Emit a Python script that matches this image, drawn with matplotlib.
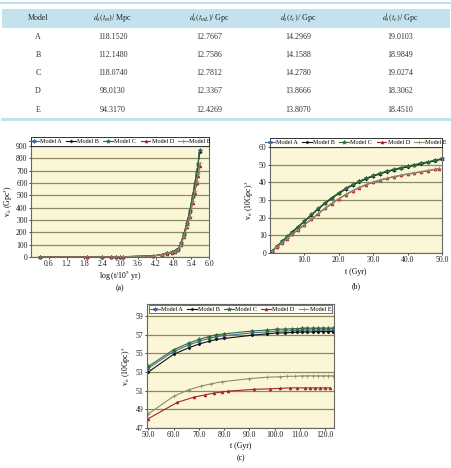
import matplotlib
matplotlib.use("Agg")
import matplotlib.pyplot as plt
from matplotlib.patches import Rectangle
from matplotlib.lines import Line2D

plt.rcParams['font.family'] = ['Liberation Serif', 'DejaVu Serif']
plt.rcParams['mathtext.fontset'] = 'stix'

W, H = 452, 468

# ---------------- table data ----------------
table_headers = ["Model", r"$d_s\left(t_{m}\right)$/ Mpc", r"$d_s\left(t_{mL}\right)$/ Gpc",
                 r"$d_s\left(t_{c}\right)$/ Gpc", r"$d_s\left(t_{e}\right)$/ Gpc"]
table_models = ["A", "B", "C", "D", "E"]
col_dm = ["118.1520", "112.1480", "118.0740", "98.0130", "94.3170"]
col_dml = ["12.7667", "12.7586", "12.7812", "12.3367", "12.4269"]
col_dc = ["14.2969", "14.1588", "14.2780", "13.8666", "13.8070"]
col_de = ["19.0103", "18.9849", "19.0274", "18.3062", "18.4510"]

# ---------------- panel (a) data ----------------
xa = [0.30, 1.90, 2.40, 2.70, 2.85, 3.00, 3.10, 4.10, 4.40, 4.60, 4.75, 4.85,
      4.95, 5.05, 5.15, 5.25, 5.35, 5.45, 5.52, 5.58, 5.63, 5.68]
a_A = [0, 0.3, 0.7, 1.2, 1.6, 2.2, 2.8, 8, 20, 32, 40, 46, 62, 110, 185, 270, 370, 495, 590, 680, 750, 860]
a_B = [0, 0.3, 0.7, 1.1, 1.5, 2.1, 2.7, 8, 19, 31, 39, 45, 61, 108, 182, 266, 365, 490, 585, 672, 742, 850]
a_C = [0, 0.3, 0.7, 1.2, 1.6, 2.2, 2.8, 8, 20, 32, 40, 46, 62, 111, 186, 272, 372, 498, 594, 684, 755, 866]
a_D = [0, 0.2, 0.6, 1.0, 1.4, 1.9, 2.5, 7, 18, 28, 36, 41, 55, 98, 165, 240, 328, 440, 522, 600, 660, 735]
a_E = [0, 0.2, 0.6, 1.0, 1.4, 1.9, 2.5, 7, 18, 29, 37, 42, 57, 100, 168, 246, 336, 452, 536, 618, 680, 760]

# ---------------- panel (b) data ----------------
tb = [0.5, 2, 3.5, 5, 6.5, 8, 10, 12, 14, 16, 18, 20, 22, 24, 26, 28, 30, 32, 34,
      36, 38, 40, 42, 44, 46, 48, 50]
b_A = [0.9, 3.7, 6.6, 9.3, 12.0, 14.6, 18.0, 21.6, 25.0, 28.3, 31.2, 33.9, 36.4, 38.6,
       40.5, 42.2, 43.7, 45.0, 46.2, 47.2, 48.1, 49.0, 49.8, 50.7, 51.5, 52.4, 53.3]
b_B = [0.9, 3.6, 6.5, 9.1, 11.8, 14.4, 17.8, 21.4, 24.8, 28.1, 31.0, 33.7, 36.2, 38.4,
       40.3, 42.0, 43.5, 44.8, 46.0, 47.0, 47.9, 48.8, 49.6, 50.5, 51.3, 52.2, 53.1]
b_C = [1.0, 3.8, 6.7, 9.4, 12.1, 14.7, 18.1, 21.8, 25.2, 28.5, 31.4, 34.1, 36.6, 38.8,
       40.7, 42.4, 43.9, 45.2, 46.4, 47.4, 48.3, 49.2, 50.0, 50.9, 51.7, 52.6, 53.5]
tb_DE = [0.5, 2, 3.5, 5, 6.5, 8, 10, 12, 14, 16, 18, 20, 22, 24, 26, 28, 30, 32, 34,
         36, 38, 40, 42, 44, 46, 48, 49]
b_D = [0.9, 3.3, 5.8, 8.2, 10.6, 12.9, 15.9, 19.0, 22.2, 25.2, 28.0, 30.6, 33.0, 35.1,
       37.0, 38.6, 40.0, 41.2, 42.2, 43.1, 43.9, 44.6, 45.3, 45.9, 46.6, 47.3, 47.7]
b_E = [0.9, 3.4, 5.9, 8.3, 10.8, 13.1, 16.1, 19.2, 22.4, 25.4, 28.2, 30.8, 33.2, 35.3,
       37.2, 38.8, 40.2, 41.4, 42.4, 43.3, 44.1, 44.8, 45.5, 46.1, 46.8, 47.5, 47.9]

# ---------------- panel (c) data ----------------
tc = [50, 60, 66, 70, 74, 77, 80, 91, 97, 101, 104, 107, 109, 111, 113, 115, 117, 119, 121, 123]
c_A = [53.4, 55.2, 55.9, 56.3, 56.6, 56.8, 56.9, 57.2, 57.3, 57.4, 57.4, 57.45, 57.45,
       57.5, 57.5, 57.5, 57.5, 57.5, 57.5, 57.5]
c_B = [53.0, 54.9, 55.6, 56.0, 56.3, 56.5, 56.6, 56.95, 57.1, 57.2, 57.2, 57.25, 57.3,
       57.3, 57.3, 57.3, 57.35, 57.35, 57.35, 57.35]
c_C = [53.6, 55.4, 56.1, 56.5, 56.8, 57.0, 57.1, 57.4, 57.5, 57.6, 57.6, 57.65, 57.65,
       57.7, 57.7, 57.7, 57.7, 57.7, 57.7, 57.7]
tc_E = [50, 60, 66, 71, 75, 79, 90, 97, 102, 105, 108, 111, 113, 115, 117, 119, 121, 123]
c_E = [48.5, 50.4, 51.1, 51.5, 51.75, 51.95, 52.3, 52.45, 52.5, 52.55, 52.55, 52.6, 52.6,
       52.6, 52.6, 52.6, 52.6, 52.6]
tc_D = [50, 61.5, 68, 72.5, 76, 79, 81.5, 92, 98, 102, 106, 109, 112, 114, 116, 118, 120, 122]
c_D = [48.0, 49.75, 50.3, 50.55, 50.75, 50.85, 50.95, 51.15, 51.2, 51.25, 51.3, 51.3, 51.3,
       51.3, 51.3, 51.3, 51.3, 51.3]

model_names = ["Model A", "Model B", "Model C", "Model D", "Model E"]
colors = ["#4a6c9b", "#111111", "#2f6b3a", "#a3232b", "#8c8c70"]
markers = [(6, 2, 0), "D", "*", "^", "+"]
msizes = [3.0, 1.4, 3.0, 2.0, 3.0]

BG = "#fcf6d8"
GRID = "#8a8a60"
FS = 5.6

fig = plt.figure(figsize=(W / 100, H / 100), dpi=100)


def fx(px):
    return px / W


def fy(py):
    return 1 - py / H


def add_axes(l, r, t, b):
    return fig.add_axes([fx(l), fy(b), fx(r) - fx(l), fy(t) - fy(b)])


# ---------------- table ----------------
fig.add_artist(Line2D([0, 1], [fy(3), fy(3)], color="#bfe0ec", lw=1.5))
fig.add_artist(Rectangle((fx(2), fy(28)), fx(450) - fx(2), fy(9) - fy(28),
                         facecolor="#c3e2ee", edgecolor="none"))
col_x = [38, 113, 209, 298, 400]
for cx, h in zip(col_x, table_headers):
    fig.text(fx(cx), fy(18), h, ha="center", va="center", fontsize=5.8, color="#222222")
row_y = [37, 55, 73, 91, 110]
columns = [table_models, col_dm, col_dml, col_dc, col_de]
for cx, col in zip(col_x, columns):
    for ry, val in zip(row_y, col):
        fig.text(fx(cx), fy(ry), val, ha="center", va="center", fontsize=5.8, color="#333333")
fig.add_artist(Line2D([fx(2), fx(450)], [fy(118.5), fy(118.5)], color="#bfe0ec", lw=2))


def style_ax(ax):
    ax.set_facecolor(BG)
    ax.grid(axis="y", color=GRID, lw=0.9)
    ax.set_axisbelow(True)
    for s in ax.spines.values():
        s.set_color("#666666")
        s.set_linewidth(0.8)
    ax.tick_params(labelsize=FS, length=1.5, width=0.6, pad=1.0, colors="#222222")


def plot_series(ax, xs_list, ys_list, lw=0.8):
    handles = []
    for xs, ys, c, m, ms, name in zip(xs_list, ys_list, colors, markers, msizes, model_names):
        h, = ax.plot(xs, ys, color=c, lw=lw, marker=m, ms=ms, mew=0.5,
                     mfc=c, mec=c, label=name, clip_on=False)
        handles.append(h)
    return handles


def legend_above(ax, handles, y0_px, y1_px, l_px, r_px):
    lax = fig.add_axes([fx(l_px), fy(y1_px), fx(r_px) - fx(l_px), fy(y0_px) - fy(y1_px)])
    lax.set_xticks([])
    lax.set_yticks([])
    lax.set_facecolor("white")
    for s in lax.spines.values():
        s.set_color("#333333")
        s.set_linewidth(0.7)
    lax.legend(handles=handles, loc="center", ncol=5, fontsize=4.4, frameon=False,
               handlelength=1.6, handletextpad=0.2, columnspacing=0.7,
               borderpad=0, borderaxespad=0)


# ---------------- panel (a) ----------------
axa = add_axes(31, 209, 146, 257)
style_ax(axa)
ha = plot_series(axa, [xa] * 5, [a_A, a_B, a_C, a_D, a_E])
axa.set_xlim(0, 6.0)
axa.set_ylim(0, 900)
axa.set_xticks([0.6, 1.2, 1.8, 2.4, 3.0, 3.6, 4.2, 4.8, 5.4, 6.0])
axa.set_xticklabels(["0.6", "1.2", "1.8", "2.4", "3.0", "3.6", "4.2", "4.8", "5.4", "6.0"])
axa.set_yticks(range(0, 901, 100))
axa.set_ylabel(r"v$_h$ (Gpc$^3$)", fontsize=FS, labelpad=1)
fig.text(fx(120), fy(275.5), r"log (t/10$^5$ yr)", ha="center", va="center", fontsize=FS)
legend_above(axa, ha, 137, 146, 31, 209)
fig.text(fx(120), fy(288), "(a)", ha="center", va="center", fontsize=FS)

# ---------------- panel (b) ----------------
axb = add_axes(270, 442, 147, 253)
style_ax(axb)
hb = plot_series(axb, [tb, tb, tb, tb_DE, tb_DE], [b_A, b_B, b_C, b_D, b_E])
axb.set_xlim(0, 50)
axb.set_ylim(0, 60)
axb.set_xticks([10, 20, 30, 40, 50])
axb.set_xticklabels(["10.0", "20.0", "30.0", "40.0", "50.0"])
axb.set_yticks(range(0, 61, 10))
axb.set_ylabel(r"v$_h$ (10Gpc)$^3$", fontsize=FS, labelpad=2)
fig.text(fx(356), fy(272), "t (Gyr)", ha="center", va="center", fontsize=FS)
legend_above(axb, hb, 138, 147, 270, 442)
fig.text(fx(356), fy(286), "(b)", ha="center", va="center", fontsize=FS)

# ---------------- panel (c) ----------------
axc = add_axes(147, 334, 304, 428)
style_ax(axc)
hc = plot_series(axc, [tc, tc, tc, tc_D, tc_E], [c_A, c_B, c_C, c_D, c_E])
for h in hc:
    h.set_clip_on(True)
axc.set_xlim(49.5, 123.5)
axc.set_ylim(47, 60.3)
axc.set_xticks([50, 60, 70, 80, 90, 100, 110, 120])
axc.set_xticklabels(["50.0", "60.0", "70.0", "80.0", "90.0", "100.0", "110.0", "120.0"])
axc.set_yticks([47, 49, 51, 53, 55, 57, 59])
axc.set_ylabel(r"v$_h$ (10Gpc)$^3$", fontsize=FS, labelpad=2)
fig.text(fx(241), fy(446), "t (Gyr)", ha="center", va="center", fontsize=FS)
leg = axc.legend(handles=hc, loc="upper center", bbox_to_anchor=(0.5, 1.0), ncol=5,
                 fontsize=4.4, frameon=True, fancybox=False, handlelength=1.6,
                 handletextpad=0.2, columnspacing=0.7, borderpad=0.2, borderaxespad=0.2)
leg.get_frame().set_edgecolor("#333333")
leg.get_frame().set_linewidth(0.6)
fig.text(fx(241), fy(458), "(c)", ha="center", va="center", fontsize=FS)

fig.savefig("out.png", dpi=100, facecolor="white")
